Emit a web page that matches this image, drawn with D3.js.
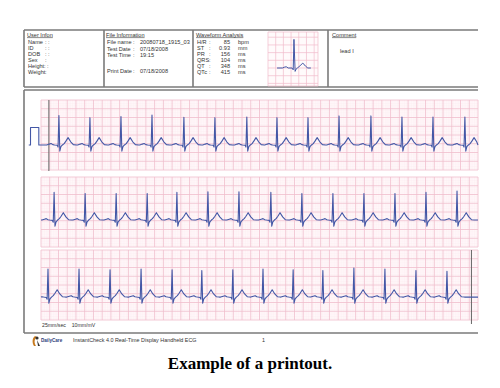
<!DOCTYPE html>
<html>
<head>
<meta charset="utf-8">
<script src="https://cdn.jsdelivr.net/npm/d3@7"></script>
<style>
  body { margin: 0; background: #fff; }
  svg { display: block; }
  text { font-family: "Liberation Sans", Arial, sans-serif; fill: #333; }
</style>
</head>
<body>
<div id="chart"></div>
<script>
// ---- header texts ----
const userLabels = ["Name", "ID", "DOB", "Sex", "Height", "Weight"];
const userMarks = [": :", ":  :", ":  :", ":", ": :", ":"];
const fileLabels = ["File name", "Test Date", "Test Time", "", "Print Date"];
const fileValues = ["20080718_1915_03", "07/18/2008", "19:15", "", "07/18/2008"];
const waveLabels = ["H/R", "ST", "PR", "QRS", "QT", "QTc"];
const waveValues = ["85", "0.93", "156", "104", "348", "415"];
const waveUnits = ["bpm", "mm", "ms", "ms", "ms", "ms"];
const commentLines = ["lead I"];
const footerText = "InstantCheck 4.0 Real-Time Display Handheld ECG";
const scaleText = "25mm/sec    10mm/mV";
const caption = "Example of a printout.";

// ---- ECG data: R-peak times (s) and R amplitudes (mV) per strip ----
const beats1 = [0.41, 1.12, 1.83, 2.54, 3.27, 3.98, 4.71, 5.40, 6.11, 6.82, 7.55, 8.26, 8.97, 9.70];
const amps1  = [1.68, 1.56, 1.62, 1.71, 1.58, 1.56, 1.60, 1.56, 1.56, 1.66, 1.66, 1.60, 1.60, 1.60];
const beats2 = [0.30, 1.01, 1.72, 2.43, 3.11, 3.82, 4.53, 5.26, 5.97, 6.68, 7.39, 8.10, 8.81, 9.52];
const amps2  = [1.58, 1.52, 1.52, 1.52, 1.58, 1.62, 1.62, 1.58, 1.52, 1.52, 1.52, 1.52, 1.58, 1.66];
const beats3 = [0.16, 0.87, 1.58, 2.29, 3.00, 3.68, 4.39, 5.08, 5.77, 6.45, 7.16, 7.87, 8.58, 9.29];
const amps3  = [1.60, 1.60, 1.56, 1.60, 1.56, 1.52, 1.56, 1.60, 1.56, 1.52, 1.66, 1.60, 1.52, 1.47];

// one beat shape, time relative to R (s) and mV (R point replaced by the beat's amplitude)
const beatT  = [-0.28, -0.22, -0.18, -0.14, -0.10, -0.04, -0.02, 0, 0.02, 0.045, 0.08, 0.12, 0.16, 0.21, 0.27, 0.33, 0.40];
const beatMv = [0, 0.05, 0.08, 0.02, 0, -0.02, -0.12, 1.6, -0.35, -0.1, 0, 0.08, 0.22, 0.42, 0.18, 0.02, 0];
const rIndex = 7;

// calibration pulse (1 mV) before strip 1
const calT  = [-0.28, -0.24, -0.24, -0.05, -0.05, 0];
const calMv = [0, 0, 1, 1, 0, 0];

// median beat shown in the waveform analysis box
const medT  = [-0.44, -0.30, -0.24, -0.20, -0.15, -0.05, -0.02, 0, 0.03, 0.06, 0.10, 0.16, 0.23, 0.30, 0.36, 0.44];
const medMv = [0, 0, 0.06, 0.08, 0, 0, -0.12, 1.86, -0.22, -0.05, 0.02, 0.15, 0.32, 0.12, 0, 0];

// strip layout
const strips = [
  { top: 100, beats: beats1, amps: amps1, low: -1.43, cal: true, marker: 0.18 },
  { top: 177, beats: beats2, amps: amps2, low: -1.54, cal: false },
  { top: 250, beats: beats3, amps: amps3, low: -1.31, cal: false, marker: 9.85 }
];

const W = 500, H = 388;
const stripH = 70;
const frameColor = "#7a7a7a";
const traceColor = "#4357a6";
const majorColor = "#f0bccb";
const minorColor = "#fcecf0";

const svg = d3.select("#chart").append("svg").attr("width", W).attr("height", H);

// ---- header boxes ----
const hdr = svg.append("g");
hdr.append("line").attr("x1", 24).attr("x2", 478).attr("y1", 30).attr("y2", 30)
  .attr("stroke", frameColor).attr("stroke-width", 1.6);
hdr.append("line").attr("x1", 24).attr("x2", 478).attr("y1", 87).attr("y2", 87)
  .attr("stroke", frameColor).attr("stroke-width", 1.6);
[24, 104, 193, 328].forEach((x) => {
  hdr.append("line").attr("x1", x).attr("x2", x).attr("y1", 30).attr("y2", 87)
    .attr("stroke", frameColor).attr("stroke-width", 1.6);
});

const fs = 5.6;
const rowY = (i) => 44 + i * 6;

function title(x, t) {
  hdr.append("text").attr("x", x).attr("y", 36.5).attr("font-size", fs)
    .style("text-decoration", "underline").text(t);
}
title(27, "User Infon");
title(106, "File Information");
title(196, "Waveform Analysis");
title(332, "Comment");

userLabels.forEach((d, i) => {
  hdr.append("text").attr("x", 28).attr("y", rowY(i)).attr("font-size", fs).text(d);
  hdr.append("text").attr("x", i === 4 ? 44 : 45).attr("y", rowY(i)).attr("font-size", fs).text(userMarks[i]);
});

const fileRow = [44, 51, 57, 0, 73];
fileLabels.forEach((d, i) => {
  if (!d) return;
  hdr.append("text").attr("x", 107).attr("y", fileRow[i]).attr("font-size", fs).text(d);
  hdr.append("text").attr("x", 133).attr("y", fileRow[i]).attr("font-size", fs).text(":");
  hdr.append("text").attr("x", 140).attr("y", fileRow[i]).attr("font-size", fs).text(fileValues[i]);
});

waveLabels.forEach((d, i) => {
  const y = 44 + i * 6;
  hdr.append("text").attr("x", 197).attr("y", y).attr("font-size", fs).text(d);
  hdr.append("text").attr("x", 209).attr("y", y).attr("font-size", fs).text(":");
  hdr.append("text").attr("x", 230).attr("y", y).attr("font-size", fs)
    .attr("text-anchor", "end").text(waveValues[i]);
  hdr.append("text").attr("x", 238).attr("y", y).attr("font-size", fs).text(waveUnits[i]);
});

commentLines.forEach((d, i) => {
  hdr.append("text").attr("x", 340).attr("y", 53 + i * 6).attr("font-size", fs).text(d);
});

// ---- median beat thumbnail ----
const tx = d3.scaleLinear().domain([0, 1.3]).range([268, 318]);
const ty = d3.scaleLinear().domain([-1.17, 2.34]).range([86, 32]);
const thumb = svg.append("g");
thumb.append("rect").attr("x", 268).attr("y", 32).attr("width", 50).attr("height", 54).attr("fill", "#fffafb");
d3.range(0, 1.3001, 0.2).concat([1.3]).forEach((t) => {
  thumb.append("line").attr("x1", tx(t)).attr("x2", tx(t)).attr("y1", 32).attr("y2", 86)
    .attr("stroke", majorColor).attr("stroke-width", 0.7);
});
d3.range(-1, 2.34, 0.5).concat([-1.17, 2.34]).forEach((v) => {
  thumb.append("line").attr("x1", 268).attr("x2", 318).attr("y1", ty(v)).attr("y2", ty(v))
    .attr("stroke", majorColor).attr("stroke-width", 0.7);
});
const rAt = 0.675;
thumb.append("path")
  .datum(medT.map((t, i) => [t + rAt, medMv[i]]))
  .attr("fill", "none").attr("stroke", traceColor).attr("stroke-width", 1)
  .attr("stroke-linejoin", "round")
  .attr("d", d3.line().x((d) => tx(d[0])).y((d) => ty(d[1])));

// ---- main frame ----
const frame = svg.append("g");
frame.append("line").attr("x1", 24).attr("x2", 24).attr("y1", 90).attr("y2", 333)
  .attr("stroke", frameColor).attr("stroke-width", 1.6);
frame.append("line").attr("x1", 24).attr("x2", 478).attr("y1", 90).attr("y2", 90)
  .attr("stroke", frameColor).attr("stroke-width", 1.6);
frame.append("line").attr("x1", 24).attr("x2", 478).attr("y1", 333).attr("y2", 333)
  .attr("stroke", frameColor).attr("stroke-width", 1.6);

// ---- strips ----
const x = d3.scaleLinear().domain([0, 10]).range([41, 478]);

strips.forEach((s) => {
  const y = d3.scaleLinear().domain([s.low, s.low + 4]).range([s.top + stripH, s.top]);
  const g = svg.append("g");

  g.append("rect").attr("x", x(0)).attr("y", s.top).attr("width", x(10) - x(0)).attr("height", stripH)
    .attr("fill", "#fffbfc");

  // minor then major grid
  const xt = d3.range(0, 251).map((k) => k * 0.04);
  const yt = d3.range(0, 41).map((k) => s.low + k * 0.1);
  xt.forEach((t, k) => {
    if (k % 5 === 0) return;
    g.append("line").attr("x1", x(t)).attr("x2", x(t)).attr("y1", s.top).attr("y2", s.top + stripH)
      .attr("stroke", minorColor).attr("stroke-width", 0.4);
  });
  yt.forEach((v, k) => {
    if (k % 5 === 0) return;
    g.append("line").attr("x1", x(0)).attr("x2", x(10)).attr("y1", y(v)).attr("y2", y(v))
      .attr("stroke", minorColor).attr("stroke-width", 0.4);
  });
  xt.forEach((t, k) => {
    if (k % 5 !== 0) return;
    g.append("line").attr("x1", x(t)).attr("x2", x(t)).attr("y1", s.top).attr("y2", s.top + stripH)
      .attr("stroke", majorColor).attr("stroke-width", 0.8);
  });
  yt.forEach((v, k) => {
    if (k % 5 !== 0) return;
    g.append("line").attr("x1", x(0)).attr("x2", x(10)).attr("y1", y(v)).attr("y2", y(v))
      .attr("stroke", majorColor).attr("stroke-width", 0.8);
  });

  // dark marker line
  if (s.marker !== undefined) {
    const y2 = s.cal ? s.top + stripH + 1 : s.top + stripH + 4;
    g.append("line").attr("x1", x(s.marker)).attr("x2", x(s.marker)).attr("y1", s.top).attr("y2", y2)
      .attr("stroke", "#666").attr("stroke-width", 1);
  }

  // build trace
  let pts = [];
  if (s.cal) calT.forEach((t, i) => pts.push([t, calMv[i]]));
  else pts.push([0, 0]);
  s.beats.forEach((r, b) => {
    beatT.forEach((t, i) => {
      const tt = r + t;
      if (tt <= 0 || tt >= 10) return;
      pts.push([tt, i === rIndex ? s.amps[b] : beatMv[i]]);
    });
  });
  pts.push([10, 0]);

  g.append("path").datum(pts)
    .attr("fill", "none").attr("stroke", traceColor).attr("stroke-width", 1.1)
    .attr("stroke-linejoin", "round")
    .attr("d", d3.line().x((d) => x(d[0])).y((d) => y(d[1])));
});

// ---- footer ----
svg.append("text").attr("x", 42).attr("y", 327).attr("font-size", 5.2).text(scaleText)
  .style("white-space", "pre");

const logo = svg.append("g").attr("transform", "translate(31,335)");
logo.append("path").attr("d", "M4,1 C1,3 1,8 3,11 L5,11 C3,8 3,4 6,2 Z").attr("fill", "#c77a1e");
logo.append("circle").attr("cx", 6).attr("cy", 3).attr("r", 1.6).attr("fill", "#333");
logo.append("path").attr("d", "M6,5 L7,11 L9,11 Z").attr("fill", "#333");
svg.append("text").attr("x", 41).attr("y", 342).attr("font-size", 4.6).attr("font-weight", "bold")
  .style("fill", "#2b3d7a").text("DailyCare");
svg.append("text").attr("x", 73).attr("y", 342).attr("font-size", 5.4).text(footerText);
svg.append("text").attr("x", 262).attr("y", 342).attr("font-size", 5.4).text("1");

svg.append("text").attr("x", 250).attr("y", 369).attr("text-anchor", "middle")
  .style("font-family", "'Liberation Serif', 'Times New Roman', serif")
  .style("font-weight", "bold").style("font-size", "17px").style("fill", "#000")
  .text(caption);
</script>
</body>
</html>
